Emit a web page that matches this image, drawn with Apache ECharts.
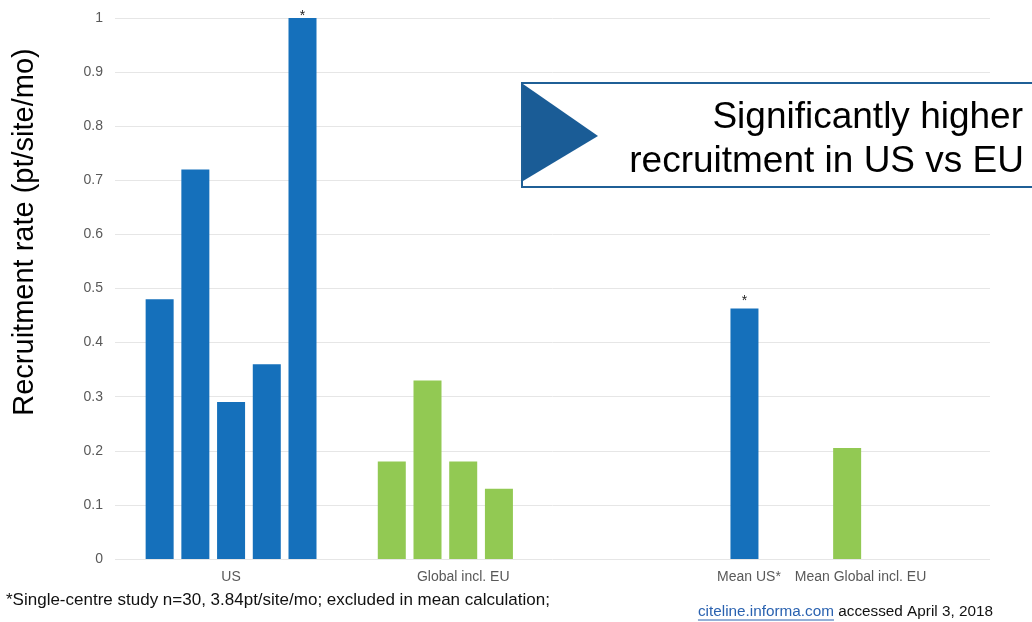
<!DOCTYPE html>
<html>
<head>
<meta charset="utf-8">
<script src="https://cdn.jsdelivr.net/npm/echarts@6/dist/echarts.min.js"></script>
<style>
html,body{margin:0;padding:0;background:#fff;}
#chart{width:1032px;height:622px;}
</style>
</head>
<body>
<div id="chart"></div>
<script>
// ---- data ----
const categoryLabels = ['US', 'Global incl. EU', 'Mean US*', 'Mean Global incl. EU'];
const usValues = [0.48, 0.72, 0.29, 0.36, 1.0];
const globalValues = [0.18, 0.33, 0.18, 0.13];
const meanUsValue = 0.463;
const meanGlobalValue = 0.205;
const starredUsIndex = 4; // single-centre study
const yAxisName = 'Recruitment rate (pt/site/mo)';
const calloutLines = ['Significantly higher', 'recruitment in US vs EU'];
const footnote = '*Single-centre study n=30, 3.84pt/site/mo; excluded in mean calculation;';
const sourceLink = 'citeline.informa.com';
const sourceText = ' accessed April 3, 2018';

// ---- layout (slot positions on a fine category axis) ----
const SLOTS = 197;
const usSlots = [10, 18, 26, 34, 42];
const globalSlots = [62, 70, 78, 86];
const meanUsSlot = 141;
const meanGlobalSlot = 164;
const labelSlots = [26, 78, 142, 167];

const xData = Array.from({length: SLOTS}, (_, i) => String(i));
const blueData = Array(SLOTS).fill('-');
const greenData = Array(SLOTS).fill('-');
const starLabel = (dist) => ({show: true, position: 'top', formatter: '*', distance: dist, color: '#222', fontSize: 14, fontFamily: 'Liberation Sans'});
usValues.forEach((v, i) => {
  blueData[usSlots[i]] = i === starredUsIndex ? {value: v, label: starLabel(-5)} : v;
});
blueData[meanUsSlot] = {value: meanUsValue, label: starLabel(0)};
globalValues.forEach((v, i) => { greenData[globalSlots[i]] = v; });
greenData[meanGlobalSlot] = meanGlobalValue;
const labelMap = {};
labelSlots.forEach((s, i) => { labelMap[s] = categoryLabels[i]; });

// measure source text widths for the underlined link
const srcFont = '15.3px "Liberation Sans"';
const ctx = document.createElement('canvas').getContext('2d');
ctx.font = srcFont;
const srcRight = 993;
const srcY = 612;
const textW = ctx.measureText(sourceText).width;
const linkW = ctx.measureText(sourceLink).width;
const linkRight = srcRight - textW;
const linkLeft = linkRight - linkW;

const chart = echarts.init(document.getElementById('chart'));
chart.setOption({
  animation: false,
  backgroundColor: '#fff',
  grid: {left: 115, right: 42, top: 18, bottom: 63, containLabel: false},
  xAxis: {
    type: 'category',
    data: xData,
    boundaryGap: false,
    axisLine: {show: false},
    axisTick: {show: false},
    splitLine: {show: false},
    axisLabel: {
      interval: (idx) => labelMap[idx] !== undefined,
      formatter: (val, idx) => labelMap[idx] || '',
      color: '#595959',
      fontSize: 14,
      fontFamily: 'Liberation Sans',
      margin: 11
    }
  },
  yAxis: {
    type: 'value',
    min: 0, max: 1, interval: 0.1,
    axisLine: {show: false},
    axisTick: {show: false},
    splitLine: {lineStyle: {color: '#e6e6e6', width: 1}},
    axisLabel: {color: '#595959', fontSize: 14, fontFamily: 'Liberation Sans', margin: 12}
  },
  series: [
    {type: 'bar', data: blueData, barWidth: 28, barGap: '-100%', itemStyle: {color: '#1570bb'}},
    {type: 'bar', data: greenData, barWidth: 28, barGap: '-100%', itemStyle: {color: '#92c953'}}
  ],
  graphic: [
    {type: 'text', x: 25, y: 232, rotation: Math.PI / 2,
      style: {text: yAxisName, align: 'center', verticalAlign: 'middle', font: '29px "Liberation Sans"', fill: '#000'}},
    {type: 'rect', shape: {x: 522, y: 83, width: 530, height: 104},
      style: {fill: '#fff', stroke: '#1f5f96', lineWidth: 2}, z: 100},
    {type: 'polygon', shape: {points: [[523, 84], [598, 136], [523, 181]]},
      style: {fill: '#1a5c96'}, z: 101},
    {type: 'text', z: 102, style: {text: calloutLines[0], x: 1023, y: 118, align: 'right', verticalAlign: 'middle', font: '37px "Liberation Sans"', fill: '#000'}},
    {type: 'text', z: 102, style: {text: calloutLines[1], x: 1024, y: 162, align: 'right', verticalAlign: 'middle', font: '37px "Liberation Sans"', fill: '#000'}},
    {type: 'text', style: {text: footnote, x: 6, y: 600, verticalAlign: 'middle', font: '17px "Liberation Sans"', fill: '#111'}},
    {type: 'text', style: {text: sourceText, x: srcRight, y: srcY, align: 'right', verticalAlign: 'middle', font: srcFont, fill: '#111'}},
    {type: 'text', style: {text: sourceLink, x: linkLeft, y: srcY, align: 'left', verticalAlign: 'middle', font: srcFont, fill: '#2a62b0'}},
    {type: 'line', shape: {x1: linkLeft, y1: srcY + 8, x2: linkRight, y2: srcY + 8}, style: {stroke: '#2a62b0', lineWidth: 1}}
  ]
});
</script>
</body>
</html>
